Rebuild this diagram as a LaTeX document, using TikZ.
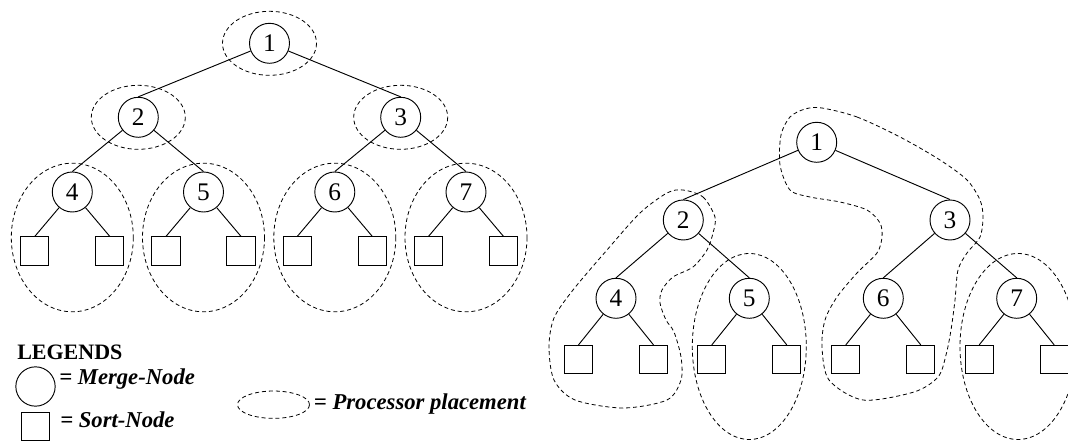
\documentclass[tikz,border=0pt]{standalone}
\usepackage{fontspec}
\setmainfont{Liberation Serif}
\usetikzlibrary{shapes.geometric}
\begin{document}
\begin{tikzpicture}[x=0.75pt,y=-0.75pt,
  merge/.style={circle,draw,line width=0.7pt,minimum size=30pt,inner sep=0pt,font=\fontsize{19}{19}\selectfont},
  sortbox/.style={rectangle,draw,line width=0.7pt,minimum size=21.2pt,inner sep=0pt},
  treeline/.style={line width=0.7pt},
  procs/.style={line width=0.6pt,dash pattern=on 3pt off 2.2pt},
  legtext/.style={font=\fontsize{17}{17}\selectfont\bfseries\itshape,anchor=base west,inner sep=0pt}]
\useasboundingbox (0,0) rectangle (1068,441);

% ---------- left tree ----------
\node[merge] (L1) at (269.5,43.3) {1};
\node[merge] (L2) at (138.3,117.3) {2};
\node[merge] (L3) at (400.7,117.3) {3};
\node[merge] (L4) at (72.3,192) {4};
\node[merge] (L5) at (203.5,192) {5};
\node[merge] (L6) at (334.8,192) {6};
\node[merge] (L7) at (466,192) {7};
\draw[treeline] (L1) -- (L2.north);
\draw[treeline] (L1) -- (L3.north);
\draw[treeline] (L2) -- (L4.north);
\draw[treeline] (L2) -- (L5.north);
\draw[treeline] (L3) -- (L6.north);
\draw[treeline] (L3) -- (L7.north);
\foreach \n/\x in {4/72.3,5/203.5,6/334.8,7/466}{
  \node[sortbox] (L\n a) at (\x-37.5,251) {};
  \node[sortbox] (L\n b) at (\x+37.5,251) {};
  \draw[treeline] (L\n) -- (L\n a.north);
  \draw[treeline] (L\n) -- (L\n b.north);
  \draw[procs] (\x,237.5) ellipse [x radius=61,y radius=74.3];
}
\draw[procs] (L1.center) ellipse [x radius=47,y radius=32];
\draw[procs] (L2.center) ellipse [x radius=47,y radius=32];
\draw[procs] (L3.center) ellipse [x radius=47,y radius=32];

% ---------- right tree ----------
\node[merge] (R1) at (816.7,142.3) {1};
\node[merge] (R2) at (683.3,220) {2};
\node[merge] (R3) at (950,220) {3};
\node[merge] (R4) at (616,298.3) {4};
\node[merge] (R5) at (749.3,298.3) {5};
\node[merge] (R6) at (883.3,298.3) {6};
\node[merge] (R7) at (1016.7,298.3) {7};
\draw[treeline] (R1) -- (R2.north);
\draw[treeline] (R1) -- (R3.north);
\draw[treeline] (R2) -- (R4.north);
\draw[treeline] (R2) -- (R5.north);
\draw[treeline] (R3) -- (R6.north);
\draw[treeline] (R3) -- (R7.north);
\foreach \n/\x in {4/616,5/749.3,6/883.3,7/1016.7}{
  \node[sortbox] (R\n a) at (\x-37.5,359.5) {};
  \node[sortbox] (R\n b) at (\x+37.5,359.5) {};
  \draw[treeline] (R\n) -- (R\n a.north);
  \draw[treeline] (R\n) -- (R\n b.north);
}
% processor regions
\draw[procs] plot[smooth cycle] coordinates {
  (683,190) (703,197) (715,217) (713,233) (707,250) (693,267) (673,277)
  (662,290) (660,303) (666,320) (674,332) (681,357) (681,380) (667,400)
  (623,408) (575,400) (554,380) (549,347) (554,318) (573,290) (607,250)
  (640,213) (667,193)};
\draw[procs] plot[smooth cycle] coordinates {
  (822,108) (857,117) (900,137) (940,160) (967,180) (980,200) (983,217)
  (980,237) (967,253) (958,270) (955,300) (951,330) (946,355) (938,377)
  (914,392) (863,400) (829,380) (822,347) (825,320) (837,297) (857,273)
  (877,253) (882,237) (880,223) (867,210) (840,202) (810,197) (790,190)
  (780,165) (781,135) (790,117) (805,109)};
\draw[procs] (749.3,346.5) ellipse [x radius=57,y radius=93];
\draw[procs] (1018,346.5) ellipse [x radius=58,y radius=93];

% ---------- legend ----------
\node[font=\fontsize{16.5}{16.5}\selectfont\bfseries,anchor=base west,inner sep=0pt] (legtitle) at (17,360) {LEGENDS};
\node[merge,minimum size=29.5pt] (legM) at (35.5,386.5) {};
\node[legtext] (legMt) at (59,384.3) {= Merge-Node};
\node[sortbox] (legS) at (35.8,426.5) {};
\node[legtext] (legSt) at (60,427.7) {= Sort-Node};
\node[procs,draw,ellipse,minimum width=54pt,minimum height=20.5pt,inner sep=0pt] (legP) at (273.5,404.7) {};
\node[legtext] (legPt) at (313.7,410) {= Processor placement};
\end{tikzpicture}
\end{document}
